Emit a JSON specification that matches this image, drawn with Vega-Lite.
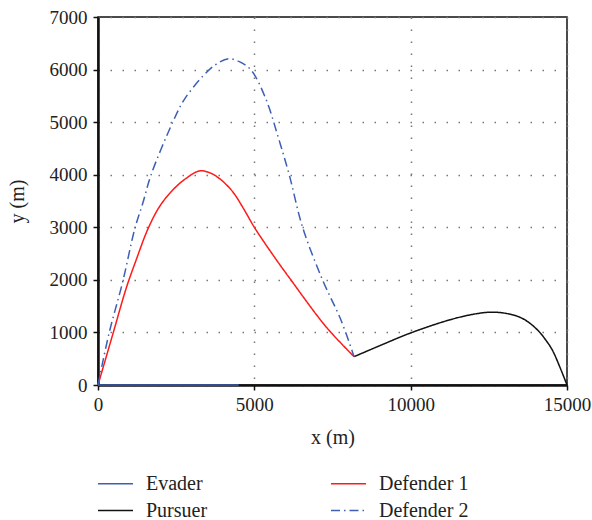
{
  "$schema": "https://vega.github.io/schema/vega-lite/v6.json",
  "width": 469,
  "height": 368,
  "autosize": {"type": "none"},
  "padding": {"left": 98, "top": 17, "right": 25, "bottom": 135},
  "background": "white",
  "config": {
    "view": {"stroke": "#111", "strokeWidth": 1.5},
    "font": "Liberation Serif",
    "axis": {
      "domainColor": "#111", "domainWidth": 2.5,
      "tickColor": "#111", "tickWidth": 1.5, "tickSize": 5,
      "labelFont": "Liberation Serif", "labelFontSize": 19, "labelColor": "#222",
      "titleFont": "Liberation Serif", "titleFontSize": 20, "titleFontWeight": "normal", "titleColor": "#222",
      "gridColor": "#777", "gridDash": [1.5, 10.5], "gridWidth": 1.5
    },
    "legend": {
      "labelFont": "Liberation Serif", "labelFontSize": 20, "labelColor": "#222"
    }
  },
  "data": {
    "values": [
      {"s": "Evader", "i": 0, "x": 0, "y": 0},
      {"s": "Evader", "i": 1, "x": 4500, "y": 0},
      {"s": "Pursuer", "i": 0, "x": 8190, "y": 539},
      {"s": "Pursuer", "i": 1, "x": 9000, "y": 745},
      {"s": "Pursuer", "i": 2, "x": 10000, "y": 990},
      {"s": "Pursuer", "i": 3, "x": 11230, "y": 1236},
      {"s": "Pursuer", "i": 4, "x": 12000, "y": 1345},
      {"s": "Pursuer", "i": 5, "x": 12560, "y": 1385},
      {"s": "Pursuer", "i": 6, "x": 13040, "y": 1363},
      {"s": "Pursuer", "i": 7, "x": 13470, "y": 1295},
      {"s": "Pursuer", "i": 8, "x": 13790, "y": 1185},
      {"s": "Pursuer", "i": 9, "x": 14100, "y": 1020},
      {"s": "Pursuer", "i": 10, "x": 14320, "y": 856},
      {"s": "Pursuer", "i": 11, "x": 14530, "y": 666},
      {"s": "Pursuer", "i": 12, "x": 14800, "y": 300},
      {"s": "Pursuer", "i": 13, "x": 15000, "y": 0},
      {"s": "Defender 1", "i": 0, "x": 0, "y": 0},
      {"s": "Defender 1", "i": 1, "x": 490, "y": 1000},
      {"s": "Defender 1", "i": 2, "x": 901, "y": 1839},
      {"s": "Defender 1", "i": 3, "x": 1220, "y": 2378},
      {"s": "Defender 1", "i": 4, "x": 1591, "y": 2960},
      {"s": "Defender 1", "i": 5, "x": 1965, "y": 3391},
      {"s": "Defender 1", "i": 6, "x": 2390, "y": 3709},
      {"s": "Defender 1", "i": 7, "x": 2818, "y": 3931},
      {"s": "Defender 1", "i": 8, "x": 3243, "y": 4072},
      {"s": "Defender 1", "i": 9, "x": 3562, "y": 4040},
      {"s": "Defender 1", "i": 10, "x": 3900, "y": 3920},
      {"s": "Defender 1", "i": 11, "x": 4307, "y": 3677},
      {"s": "Defender 1", "i": 12, "x": 4650, "y": 3360},
      {"s": "Defender 1", "i": 13, "x": 5000, "y": 3000},
      {"s": "Defender 1", "i": 14, "x": 5600, "y": 2470},
      {"s": "Defender 1", "i": 15, "x": 6172, "y": 1997},
      {"s": "Defender 1", "i": 16, "x": 7290, "y": 1110},
      {"s": "Defender 1", "i": 17, "x": 8190, "y": 539},
      {"s": "Defender 2", "i": 0, "x": 0, "y": 0},
      {"s": "Defender 2", "i": 1, "x": 360, "y": 1000},
      {"s": "Defender 2", "i": 2, "x": 785, "y": 1950},
      {"s": "Defender 2", "i": 3, "x": 1180, "y": 2980},
      {"s": "Defender 2", "i": 4, "x": 1432, "y": 3456},
      {"s": "Defender 2", "i": 5, "x": 1699, "y": 4000},
      {"s": "Defender 2", "i": 6, "x": 2391, "y": 5000},
      {"s": "Defender 2", "i": 7, "x": 2764, "y": 5434},
      {"s": "Defender 2", "i": 8, "x": 3349, "y": 5871},
      {"s": "Defender 2", "i": 9, "x": 3776, "y": 6100},
      {"s": "Defender 2", "i": 10, "x": 4170, "y": 6205},
      {"s": "Defender 2", "i": 11, "x": 4521, "y": 6150},
      {"s": "Defender 2", "i": 12, "x": 4894, "y": 5991},
      {"s": "Defender 2", "i": 13, "x": 5374, "y": 5434},
      {"s": "Defender 2", "i": 14, "x": 5750, "y": 4740},
      {"s": "Defender 2", "i": 15, "x": 6118, "y": 3994},
      {"s": "Defender 2", "i": 16, "x": 6544, "y": 2999},
      {"s": "Defender 2", "i": 17, "x": 7183, "y": 1997},
      {"s": "Defender 2", "i": 18, "x": 7770, "y": 1236},
      {"s": "Defender 2", "i": 19, "x": 8190, "y": 539}
    ]
  },
  "mark": {"type": "line", "interpolate": "catmull-rom", "strokeWidth": 1.5},
  "encoding": {
    "x": {
      "field": "x", "type": "quantitative", "title": "x (m)",
      "scale": {"domain": [0, 15000], "nice": false},
      "axis": {"values": [0, 5000, 10000, 15000], "gridValues": [5000, 10000], "grid": true, "format": "d", "labelFont": "Liberation Serif", "labelPadding": 5, "titlePadding": 13, "labelFlush": false}
    },
    "y": {
      "field": "y", "type": "quantitative", "title": "y (m)",
      "scale": {"domain": [0, 7000], "nice": false},
      "axis": {"values": [0, 1000, 2000, 3000, 4000, 5000, 6000, 7000], "gridValues": [1000, 2000, 3000, 4000, 5000, 6000], "grid": true, "format": "d", "labelFont": "Liberation Serif", "labelPadding": 6, "titlePadding": 22, "labelFlush": false}
    },
    "order": {"field": "i", "type": "quantitative"},
    "color": {
      "field": "s", "type": "nominal",
      "scale": {"domain": ["Evader", "Defender 1", "Pursuer", "Defender 2"], "range": ["#3f5fb5", "#ff1a1a", "#111111", "#3f5fb5"]},
      "legend": {
        "title": null, "orient": "none", "legendX": 6, "legendY": 455, "columns": 2, "direction": "horizontal",
        "symbolType": "M-1.667,0H1.667", "symbolSize": 441, "symbolStrokeWidth": 1.5, "labelOffset": 19,
        "columnPadding": 119, "rowPadding": 5, "padding": 0
      }
    },
    "strokeDash": {
      "field": "s", "type": "nominal",
      "scale": {"domain": ["Evader", "Defender 1", "Pursuer", "Defender 2"], "range": [[1, 0], [1, 0], [1, 0], [9, 4, 1.5, 4]]},
      "legend": null
    }
  }
}
